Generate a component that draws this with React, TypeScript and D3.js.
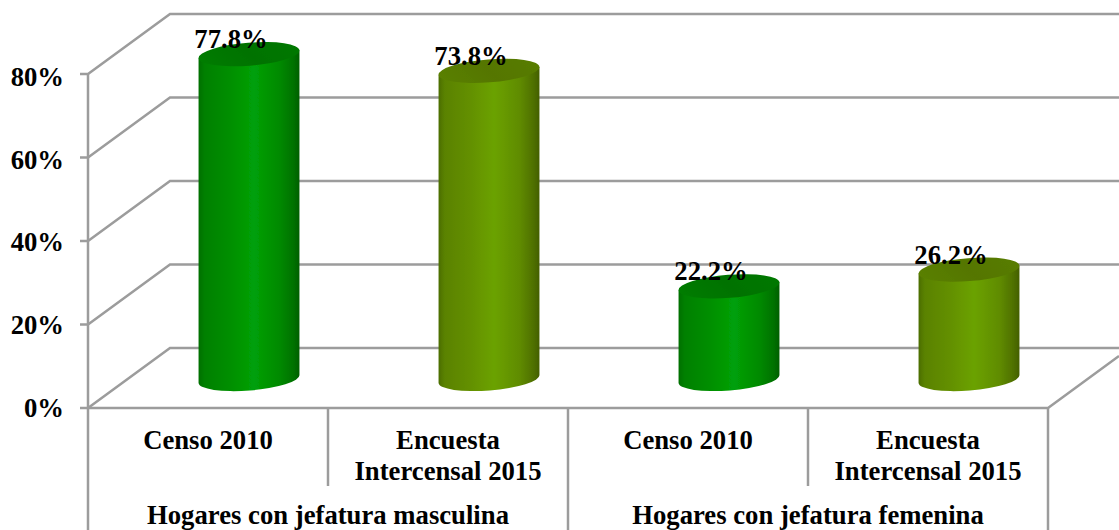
import React from "react";
import * as d3 from "d3";

const categories = ["Censo 2010", "Encuesta|Intercensal 2015", "Censo 2010", "Encuesta|Intercensal 2015"];
const groups = ["Hogares con jefatura masculina", "Hogares con jefatura femenina"];
const values = [77.8, 73.8, 22.2, 26.2];
const labels = ["77.8%", "73.8%", "22.2%", "26.2%"];
const yTicks = [0, 20, 40, 60, 80];

const W = 1119;
const H = 530;
const depthX = 82;
const depthY = 60;
const gridColor = "#9c9c9c";
const font = "'Liberation Serif', serif";

const x = d3.scaleBand<number>().domain(d3.range(4)).range([88, 1048]);
const y = d3.scaleLinear().domain([0, 80]).range([408, 74]);

const rx = 50.6;
const ry = 11.5;
const tilt = -4.5;

const fills = [{ id: "g" }, { id: "o" }];

function Cylinder({ i }: { i: number }) {
  const cx = x(i)! + x.bandwidth() / 2 + depthX / 2;
  const base = y(0) - depthY / 2 + 1;
  const top = y(values[i]) - depthY / 2 + 1;
  const dx = rx * Math.cos((tilt * Math.PI) / 180);
  const dy = rx * Math.sin((tilt * Math.PI) / 180);
  const side = `M${cx - dx},${top - dy}L${cx - dx},${base - dy}A${rx},${ry} ${tilt} 0 0 ${cx + dx},${base + dy}L${cx + dx},${top + dy}Z`;
  const f = fills[i % 2];
  return (
    <g filter="url(#soft)">
      <path d={side} fill={`url(#${f.id})`} />
      <ellipse cx={cx} cy={top} rx={rx} ry={ry} transform={`rotate(${tilt} ${cx} ${top})`} fill={`url(#${f.id}t)`} />
    </g>
  );
}

export default function App() {
  return (
    <svg width={W} height={H} style={{ position: "absolute", left: 0, top: 0 }} fontFamily={font} fontWeight="bold" fontSize={26.7}>
      <defs>
        <filter id="soft" x="-5%" y="-5%" width="110%" height="110%">
          <feGaussianBlur stdDeviation="0.6" />
        </filter>
        <linearGradient id="g" x1="0" x2="1" y1="0" y2="0">
          <stop offset="0" stopColor="#006f00" />
          <stop offset="0.06" stopColor="#008000" />
          <stop offset="0.3" stopColor="#008e00" />
          <stop offset="0.55" stopColor="#00a008" />
          <stop offset="0.8" stopColor="#008a00" />
          <stop offset="0.94" stopColor="#007200" />
          <stop offset="1" stopColor="#005f00" />
        </linearGradient>
        <linearGradient id="o" x1="0" x2="1" y1="0" y2="0">
          <stop offset="0" stopColor="#4b6d00" />
          <stop offset="0.06" stopColor="#5a8200" />
          <stop offset="0.3" stopColor="#638f00" />
          <stop offset="0.55" stopColor="#6ba200" />
          <stop offset="0.8" stopColor="#608c00" />
          <stop offset="0.94" stopColor="#4f7000" />
          <stop offset="1" stopColor="#435f00" />
        </linearGradient>
        <linearGradient id="gt" x1="0" x2="1" y1="0.6" y2="0.4">
          <stop offset="0" stopColor="#007c00" />
          <stop offset="0.5" stopColor="#007200" />
          <stop offset="1" stopColor="#007800" />
        </linearGradient>
        <linearGradient id="ot" x1="0" x2="1" y1="0.6" y2="0.4">
          <stop offset="0" stopColor="#5a8000" />
          <stop offset="0.5" stopColor="#557600" />
          <stop offset="1" stopColor="#587c00" />
        </linearGradient>
      </defs>

      {/* walls */}
      <g stroke={gridColor} strokeWidth={2.5} fill="none">
        {yTicks.map((t) => (
          <path key={t} d={`M80,${y(t)}L88,${y(t)}L${88 + depthX},${y(t) - depthY}L${W},${y(t) - depthY}`} />
        ))}
        <path d={`M88,${y(80)}V${H}`} />
        <path d={`M88,${y(0)}H1048L${W},${y(0) - (depthY * (W - 1048)) / depthX}`} />
        {d3.range(1, 5).map((i) => (
          <path key={i} d={`M${x(i - 1)! + x.bandwidth()},${y(0)}V${i % 2 ? 486 : H}`} />
        ))}
      </g>

      {values.map((_, i) => (
        <Cylinder key={i} i={i} />
      ))}

      {values.map((v, i) => (
        <text key={i} x={x(i)! + x.bandwidth() / 2 + 23} y={y(v) - 35} textAnchor="middle">
          {labels[i]}
        </text>
      ))}

      {yTicks.map((t) => (
        <text key={t} x={64} y={y(t) + 8.5 + (t / 80) * 3.5} textAnchor="end">
          {t}%
        </text>
      ))}

      {categories.map((c, i) =>
        c.split("|").map((line, j) => (
          <text key={`${i}-${j}`} x={x(i)! + x.bandwidth() / 2} y={449 + j * 31} textAnchor="middle">
            {line}
          </text>
        ))
      )}
      {groups.map((g, i) => (
        <text key={g} x={x(i * 2 + 1)!} y={524} textAnchor="middle">
          {g}
        </text>
      ))}
    </svg>
  );
}
